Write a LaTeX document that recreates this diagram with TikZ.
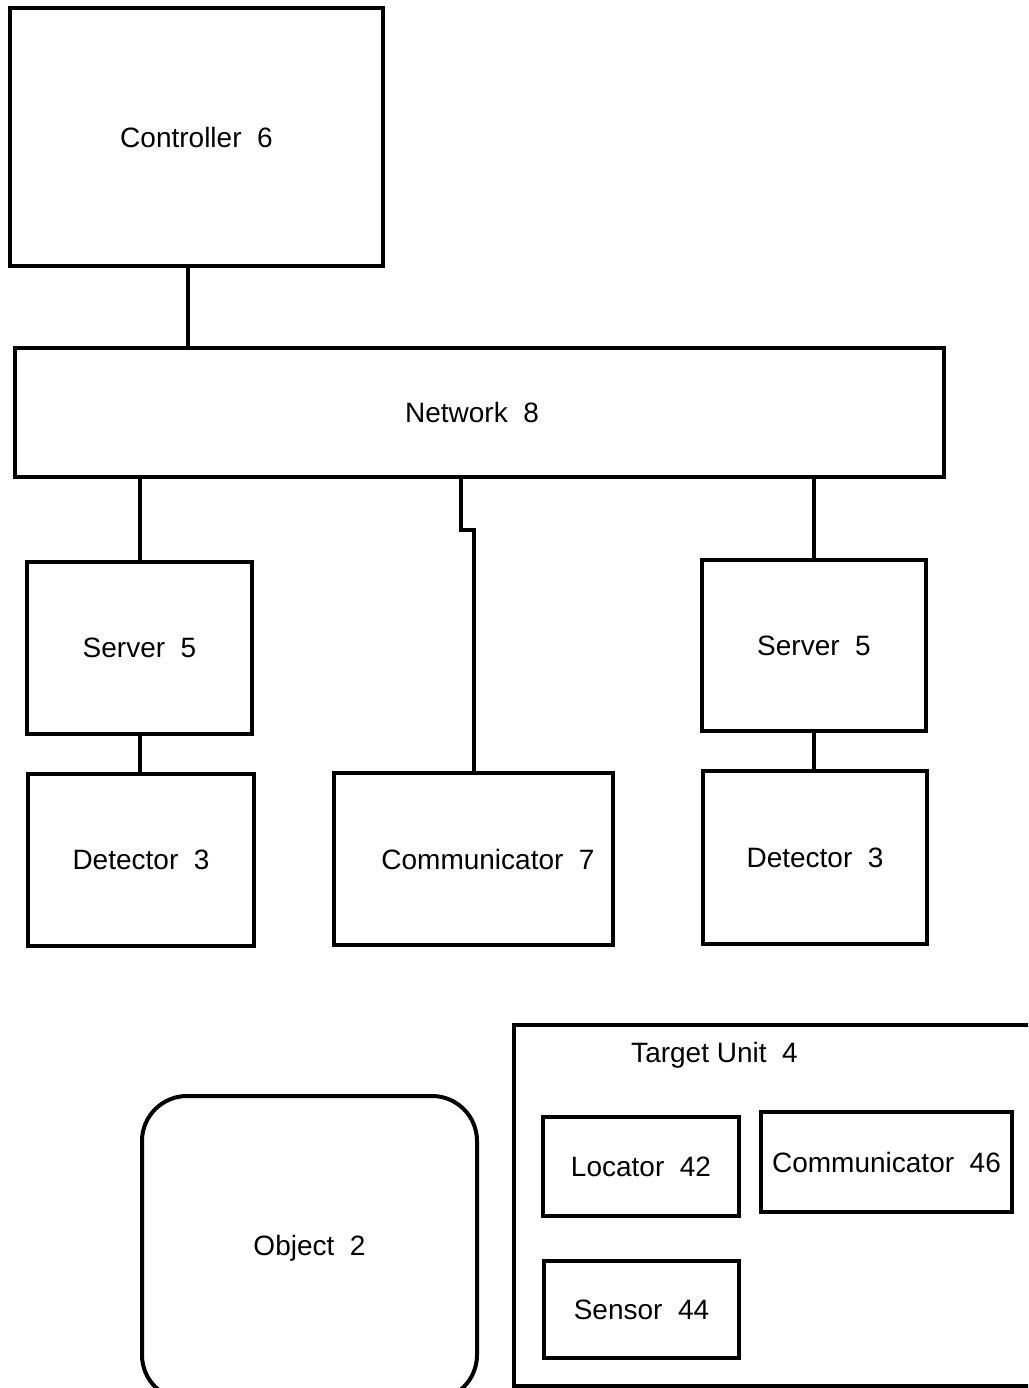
\documentclass[tikz,border=0pt]{standalone}
\usepackage{fontspec}
\setmainfont{Liberation Sans}
\usetikzlibrary{calc}
\tikzset{
	blk/.style 2 args={draw, line width=4pt, minimum width=#1, minimum height=#2, inner sep=0pt, outer sep=0pt, font=\fontsize{28}{32}\selectfont},
	wire/.style={line width=4pt},
	lbl/.style={font=\fontsize{28}{32}\selectfont, inner sep=0pt}
}

\begin{document}
\begin{tikzpicture}[x=1pt, y=-1pt]
		%%%%% START %%%%%
		\useasboundingbox (0, 0) rectangle (1028, 1388);
		\clip (0, 0) rectangle (1028, 1388);
		
		\node[blk={373pt}{257pt}] (ctrl) at (196.5, 137) {Controller\ \ 6};
		\node[blk={929pt}{129pt}] (net) at (479.5, 412.5) {\hspace*{-15pt}Network\ \ 8};
		
		\node[blk={225pt}{172pt}] (srvL) at (139.5, 648) {Server\ \ 5};
		\node[blk={226pt}{172pt}] (detL) at (141, 860) {Detector\ \ 3};
		\node[blk={279pt}{172pt}] (com7) at (473.5, 859) {\hspace*{29pt}Communicator\ \ 7};
		\node[blk={224pt}{171pt}] (srvR) at (814, 645.5) {Server\ \ 5};
		\node[blk={224pt}{173pt}] (detR) at (815, 857.5) {Detector\ \ 3};
		
		\coordinate (tapC) at (188, 265.5);
		\coordinate (tapM) at (461, 477);
		\draw[wire] (tapC) -- (tapC |- net.north);
		\draw[wire] (srvL.north) -- (srvL.north |- net.south);
		\draw[wire] (srvL.south) -- (detL.north -| srvL.south);
		\draw[wire] (tapM) -- ++(0, 53) -| (com7.north);
		\draw[wire] (srvR.north) -- (srvR.north |- net.south);
		\draw[wire] (srvR.south) -- (detR.north -| srvR.south);
		
		% target unit
		\draw[wire] (1040, 1025) -- (514, 1025) -- (514, 1386) -- (1040, 1386);
		\node[lbl] (tgt) at (714.5, 1055) {Target Unit\ \ 4};
		\node[blk={196pt}{99pt}] (loc) at (641, 1166.5) {Locator\ \ 42};
		\node[blk={251pt}{100pt}] (com46) at (886.5, 1162) {Communicator\ \ 46};
		\node[blk={195pt}{97pt}] (sen) at (641.5, 1309.5) {Sensor\ \ 44};
		
		% object
		\node[blk={335pt}{304pt}, rounded corners=45pt] (obj) at (309.5, 1248) {Object\ \ 2};
		%%%%% END %%%%%
	\end{tikzpicture}
\end{document}
